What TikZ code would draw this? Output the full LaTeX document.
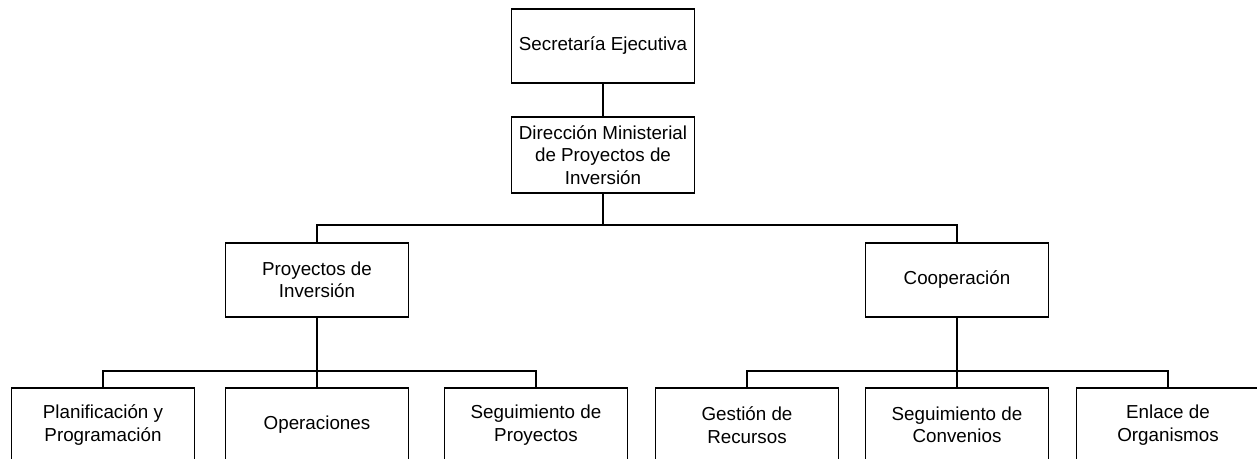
\documentclass[tikz,border=0pt]{standalone}
\usepackage{fontspec}
\setmainfont{Liberation Sans}
\usepackage{tikz}

\begin{document}
\begin{tikzpicture}[x=1pt, y=-1pt]
    \tikzstyle{block} = [rectangle, draw, fill=white, align=center,
        minimum width=183pt, minimum height=74pt, inner sep=2pt,
        line width=1.2pt, font=\fontsize{18.8}{22.5}\selectfont]
    \tikzstyle{line} = [line width=1.3pt]

    \useasboundingbox (0,0) rectangle (1257,458);

    % levels
    \node [block] (secretaria) at (603,46) {Secretaría Ejecutiva};
    \node [block, minimum height=76pt] (direccion) at (603,155) {Dirección Ministerial\\de Proyectos de\\Inversión};
    \node [block] (proyectos) at (317,280) {Proyectos de\\Inversión};
    \node [block] (cooperacion) at (957,280) {Cooperación};

    \node [block] (planif) at (103,425) {Planificación y\\Programación};
    \node [block] (operaciones) at (317,425) {Operaciones};
    \node [block] (segproy) at (536,425) {Seguimiento de\\Proyectos};
    \node [block] (gestion) at (747,425) {Gestión de\\Recursos};
    \node [block] (segconv) at (957,425) {Seguimiento de\\Convenios};
    \node [block] (enlace) at (1168,425) {Enlace de\\Organismos};

    \coordinate (busA) at (0,225);
    \coordinate (busB) at (0,371);

    \draw [line] (secretaria.south) -- (direccion.north);
    \draw [line] (direccion.south) -- (direccion.south |- busA) -| (proyectos.north);
    \draw [line] (direccion.south |- busA) -| (cooperacion.north);

    \draw [line] (proyectos.south) -- (proyectos.south |- busB) -| (planif.north);
    \draw [line] (proyectos.south |- busB) -| (segproy.north);
    \draw [line] (proyectos.south |- busB) -- (operaciones.north);

    \draw [line] (cooperacion.south) -- (cooperacion.south |- busB) -| (gestion.north);
    \draw [line] (cooperacion.south |- busB) -| (enlace.north);
    \draw [line] (cooperacion.south |- busB) -- (segconv.north);
\end{tikzpicture}
\end{document}
